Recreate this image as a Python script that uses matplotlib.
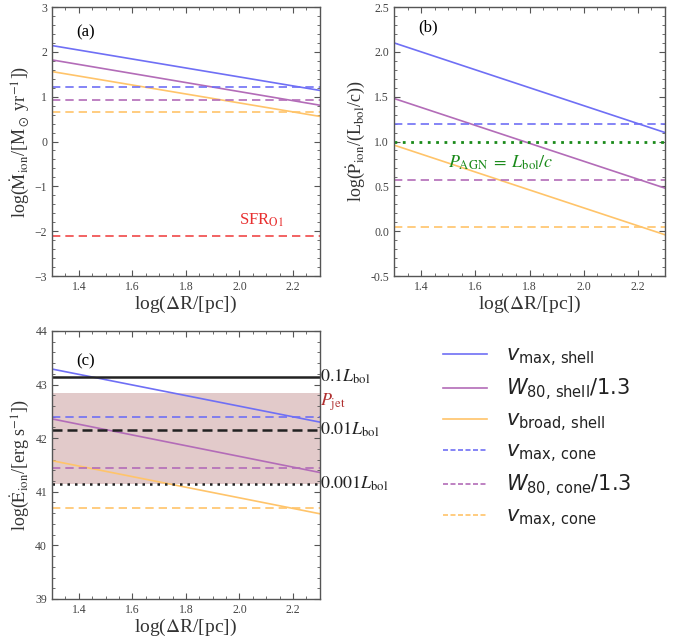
import numpy as np
import matplotlib
matplotlib.use("Agg")
import matplotlib.pyplot as plt
from matplotlib.ticker import AutoMinorLocator, MultipleLocator
from matplotlib.lines import Line2D

plt.rcParams["font.family"] = ["Liberation Serif", "DejaVu Serif"]
plt.rcParams["mathtext.fontset"] = "stix"

# radius grid, log(ΔR/pc)
log_dr = [1.3, 2.3]

# (a) mass outflow rate, log(M_dot / Msun yr^-1)
mdot_vmax_shell = [2.14, 1.14]
mdot_w80_shell = [1.82, 0.81]
mdot_vbroad_shell = [1.56, 0.56]
mdot_vmax_cone = 1.22
mdot_w80_cone = 0.92
mdot_vbroad_cone = 0.65
sfr_o1 = -2.1

# (b) momentum rate, log(P_dot / (L_bol/c))
pdot_vmax_shell = [2.10, 1.10]
pdot_w80_shell = [1.48, 0.48]
pdot_vbroad_shell = [0.96, -0.04]
pdot_vmax_cone = 1.20
pdot_w80_cone = 0.57
pdot_vbroad_cone = 0.05
p_agn = 1.0

# (c) kinetic power, log(E_dot / erg s^-1)
edot_vmax_shell = [43.29, 42.30]
edot_w80_shell = [42.36, 41.36]
edot_vbroad_shell = [41.58, 40.59]
edot_vmax_cone = 42.40
edot_w80_cone = 41.45
edot_vbroad_cone = 40.69
log_lbol = 44.15
p_jet_range = [41.14, 42.84]

c_blue = "#6f6ff5"
c_purple = "#b36cb8"
c_orange = "#ffc46a"

legend_labels = [
    r"$v_{\rm max,\,shell}$",
    r"$W_{80,\,\rm shell}/1.3$",
    r"$v_{\rm broad,\,shell}$",
    r"$v_{\rm max,\,cone}$",
    r"$W_{80,\,\rm cone}/1.3$",
    r"$v_{\rm max,\,cone}$",
]

fig = plt.figure(figsize=(6.85, 6.37), dpi=100)
ax_a = fig.add_axes([0.0759, 0.5667, 0.391, 0.4223])
ax_b = fig.add_axes([0.5752, 0.5667, 0.3956, 0.4223])
ax_c = fig.add_axes([0.0759, 0.0597, 0.391, 0.4207])

spine_col = "#555555"


def style(ax, ylo, yhi, ymaj, ymin_n):
    ax.set_xlim(log_dr[0], log_dr[1])
    ax.set_ylim(ylo, yhi)
    ax.xaxis.set_major_locator(MultipleLocator(0.2))
    ax.xaxis.set_minor_locator(AutoMinorLocator(4))
    ax.yaxis.set_major_locator(MultipleLocator(ymaj))
    ax.yaxis.set_minor_locator(AutoMinorLocator(ymin_n))
    ax.tick_params(which="both", direction="in", top=True, right=True,
                   colors=spine_col, labelcolor="#444444", labelsize=8.5)
    ax.tick_params(which="major", length=4, width=0.8)
    ax.tick_params(which="minor", length=2, width=0.6)
    for s in ax.spines.values():
        s.set_color(spine_col)
        s.set_linewidth(1.0)
    ax.set_xlabel(r"log($\Delta$R/[pc])", fontsize=14, labelpad=1, color="#333333")


def draw_set(ax, shell, cone):
    cols = [c_blue, c_purple, c_orange]
    for vals, col in zip(shell, cols):
        ax.plot(log_dr, vals, color=col, lw=1.2)
    for val, col in zip(cone, cols):
        ax.axhline(val, color=col, lw=1.2, ls=(0, (5, 3)))


# panel (a)
draw_set(ax_a, [mdot_vmax_shell, mdot_w80_shell, mdot_vbroad_shell],
         [mdot_vmax_cone, mdot_w80_cone, mdot_vbroad_cone])
ax_a.axhline(sfr_o1, color="#f04848", lw=1.2, ls=(0, (5, 3)))
ax_a.text(2.0, -1.75, r"SFR$_{\rm O1}$", color="#e83030", fontsize=12, va="center")
ax_a.text(1.39, 2.44, "(a)", fontsize=12, va="center")
style(ax_a, -3, 3, 1, 5)
ax_a.set_ylabel(r"log($\dot{\rm M}_{\rm ion}$/[M$_\odot$ yr$^{-1}$])", fontsize=13,
                labelpad=2, color="#333333")

# panel (b)
draw_set(ax_b, [pdot_vmax_shell, pdot_w80_shell, pdot_vbroad_shell],
         [pdot_vmax_cone, pdot_w80_cone, pdot_vbroad_cone])
ax_b.axhline(p_agn, color="#1a8a1a", lw=2.0, ls=(0, (1, 2)))
ax_b.text(1.5, 0.76, r"$P_{\rm AGN}\;=\;L_{\rm bol}/c$", color="#1a8a1a", fontsize=13,
          va="center")
ax_b.text(1.39, 2.27, "(b)", fontsize=12, va="center")
style(ax_b, -0.5, 2.5, 0.5, 5)
ax_b.yaxis.set_major_formatter(plt.FormatStrFormatter("%.1f"))
ax_b.set_ylabel(r"log($\dot{\rm P}_{\rm ion}$/(L$_{\rm bol}$/c))", fontsize=13,
                labelpad=2, color="#333333")

# panel (c)
ax_c.axhspan(p_jet_range[0], p_jet_range[1], color="#a05050", alpha=0.3, lw=0)
draw_set(ax_c, [edot_vmax_shell, edot_w80_shell, edot_vbroad_shell],
         [edot_vmax_cone, edot_w80_cone, edot_vbroad_cone])
ax_c.axhline(log_lbol - 1, color="#222222", lw=1.8, ls="-")
ax_c.axhline(log_lbol - 2, color="#222222", lw=1.8, ls=(0, (4, 2)))
ax_c.axhline(log_lbol - 3, color="#222222", lw=1.8, ls=(0, (1, 2)))
ax_c.text(1.39, 43.44, "(c)", fontsize=12, va="center")
style(ax_c, 39, 44, 1, 5)
ax_c.set_ylabel(r"log($\dot{\rm E}_{\rm ion}$/[erg s$^{-1}$])", fontsize=13,
                labelpad=2, color="#333333")
for off, txt in [(1, r"$0.1L_{\rm bol}$"), (2, r"$0.01L_{\rm bol}$"),
                 (3, r"$0.001L_{\rm bol}$")]:
    ax_c.text(2.302, log_lbol - off, txt, fontsize=13, va="center", ha="left",
              clip_on=False, color="#222222")
ax_c.text(2.302, 42.68, r"$P_{\rm jet}$", fontsize=13, va="center", ha="left",
          color="#b03030", clip_on=False)

# shared legend
handles = [
    Line2D([], [], color=c_blue, lw=1.2),
    Line2D([], [], color=c_purple, lw=1.2),
    Line2D([], [], color=c_orange, lw=1.2),
    Line2D([], [], color=c_blue, lw=1.2, ls=(0, (3, 1.5))),
    Line2D([], [], color=c_purple, lw=1.2, ls=(0, (3, 1.5))),
    Line2D([], [], color=c_orange, lw=1.2, ls=(0, (3, 1.5))),
]
leg = fig.legend(handles, legend_labels, loc="upper left",
                 bbox_to_anchor=(0.62, 0.487), frameon=False,
                 prop={"family": "DejaVu Sans", "size": 15},
                 handlelength=2.1, handletextpad=0.9, labelspacing=0.36)
for t in leg.get_texts():
    t.set_color("#222222")
    t.set_math_fontfamily("dejavusans")

fig.savefig("out.png", dpi=100)
